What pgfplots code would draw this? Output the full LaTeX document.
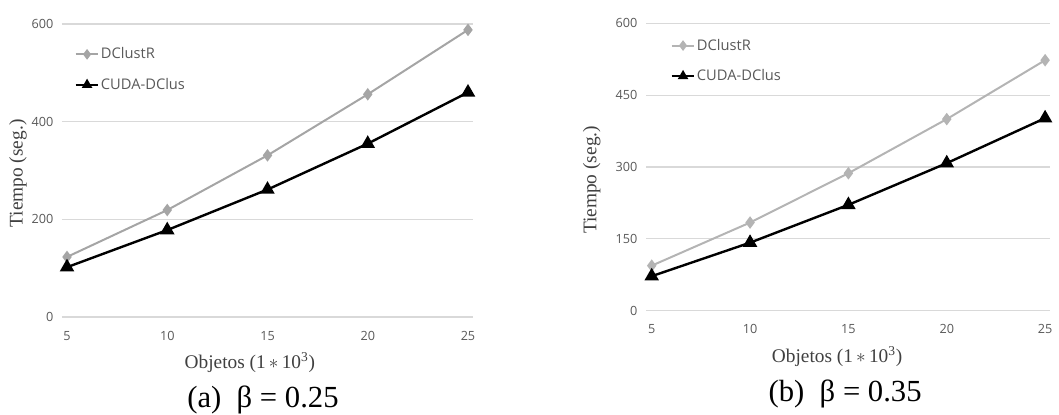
\documentclass[border=0pt]{standalone}
\usepackage{fontspec}
\setmainfont{Liberation Serif}
\newfontfamily\sansf{Open Sans}
\usepackage{pgfplots}
\pgfplotsset{compat=1.18}
\definecolor{gridc}{HTML}{D9D9D9}
\definecolor{tickc}{HTML}{595959}
\definecolor{labc}{HTML}{404040}
\definecolor{greyA}{HTML}{A5A5A5}
\definecolor{greyB}{HTML}{B4B4B4}
\pgfplotsset{mystyle/.style={
  scale only axis,
  axis line style={draw=none}, tick style={draw=none},
  ymajorgrids, grid style={gridc, line width=0.8pt},
  ymin=0, ymax=600, xtick={5,10,15,20,25},
  tick label style={font=\sansf\fontsize{9.5}{11}\selectfont, text=tickc},
  xticklabel style={yshift=-7pt},
  yticklabel style={xshift=-3pt},
  /pgf/number format/assume math mode=true,
  label style={font=\fontsize{14.5}{16}\selectfont, text=labc},
  legend style={draw=none, fill=none, font=\sansf\fontsize{11}{12}\selectfont, text=tickc, anchor=north west, row sep=9pt,
    /tikz/every odd column/.append style={column sep=-1pt}},
  legend image post style={mark size=2.8pt},
  legend cell align=left,
  clip=false,
}}
\begin{document}
\begin{tikzpicture}
\path[use as bounding box] (0,0) rectangle (794.25pt,310.5pt);
\begin{axis}[mystyle,
  at={(46.5pt,72.75pt)}, anchor=south west,
  width=308.25pt, height=219.75pt,
  xmin=4.75, xmax=25.25, ytick={0,200,400,600},
  legend style={at={(axis description cs:0.02,0.938)}},
  ylabel={Tiempo (seg.)},
  ylabel style={at={(axis description cs:-0.107,0.49)}, anchor=center},
  xlabel={Objetos (1$\,\ast\,$10\textsuperscript{3})},
  xlabel style={at={(axis description cs:0.457,-0.154)}, anchor=center},
]
\addplot[greyA, line width=1.5pt, mark=diamond*, mark size=3.5pt, mark options={fill=greyA}]
  coordinates {(5,123) (10,219) (15,331) (20,456) (25,588)};
\addlegendentry{DClustR}
\addplot[black, line width=1.8pt, mark=triangle*, mark size=4.5pt]
  coordinates {(5,102) (10,178) (15,261) (20,355) (25,460)};
\addlegendentry{CUDA-DClus}
\node[font=\fontsize{23}{26}\selectfont, text=black, anchor=center] at (axis description cs:0.489,-0.283) {(a)\ \ β = 0.25};
\end{axis}
\begin{axis}[mystyle,
  at={(484.5pt,77.5pt)}, anchor=south west,
  width=303pt, height=215.5pt,
  xmin=4.71, xmax=25.25, ytick={0,150,300,450,600},
  legend style={at={(axis description cs:0.05,0.965)}},
  ylabel={Tiempo (seg.)},
  ylabel style={at={(axis description cs:-0.134,0.455)}, anchor=center},
  xlabel={Objetos (1$\,\ast\,$10\textsuperscript{3})},
  xlabel style={at={(axis description cs:0.473,-0.161)}, anchor=center},
]
\addplot[greyB, line width=1.5pt, mark=diamond*, mark size=3.5pt, mark options={fill=greyB}]
  coordinates {(5,94) (10,184) (15,287) (20,400) (25,523)};
\addlegendentry{DClustR}
\addplot[black, line width=1.8pt, mark=triangle*, mark size=4.5pt]
  coordinates {(5,72) (10,142) (15,221) (20,308) (25,402)};
\addlegendentry{CUDA-DClus}
\node[font=\fontsize{23}{26}\selectfont, text=black, anchor=center] at (axis description cs:0.493,-0.29) {(b)\ \ β = 0.35};
\end{axis}
\end{tikzpicture}
\end{document}
